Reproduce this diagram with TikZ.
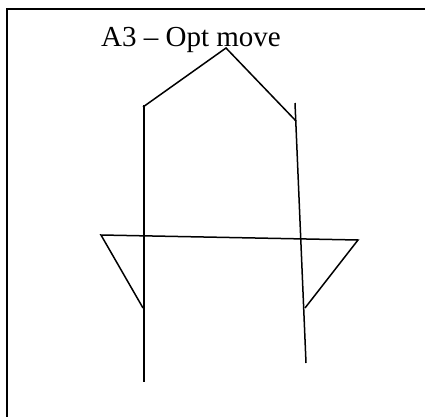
\documentclass[tikz,border=0pt]{standalone}
\usepackage{fontspec}
\setmainfont{Liberation Serif}
\usepackage{tikz}

\begin{document}
\begin{tikzpicture}[x=1pt,y=-1pt,line width=1.5pt]
  \useasboundingbox (0,0) rectangle (425,417);
  % frame, only top and left edges are inside the page
  \draw[line width=1.8pt] (425,9) -- (7,9) -- (7,417);
  \node[anchor=base,inner sep=0pt,font=\fontsize{29}{34}\selectfont] (title) at (191,47) {A3 -- Opt move};
  % roof
  \coordinate (peak) at (226,48);
  \coordinate (roofL) at (143,107);
  \coordinate (roofR) at (296,121);
  \draw (roofL) -- (peak) -- (roofR);
  % legs
  \coordinate (legLtop) at (144,105);
  \coordinate (legLbot) at (144,382);
  \coordinate (legRtop) at (295,103);
  \coordinate (legRbot) at (306,363);
  \draw (legLtop) -- (legLbot);
  \draw (legRtop) -- (legRbot);
  % bar with the two side triangles
  \coordinate (barL) at (101,235);
  \coordinate (barR) at (358,240);
  \draw (143,308) -- (barL) -- (barR) -- (305,308);
\end{tikzpicture}
\end{document}
